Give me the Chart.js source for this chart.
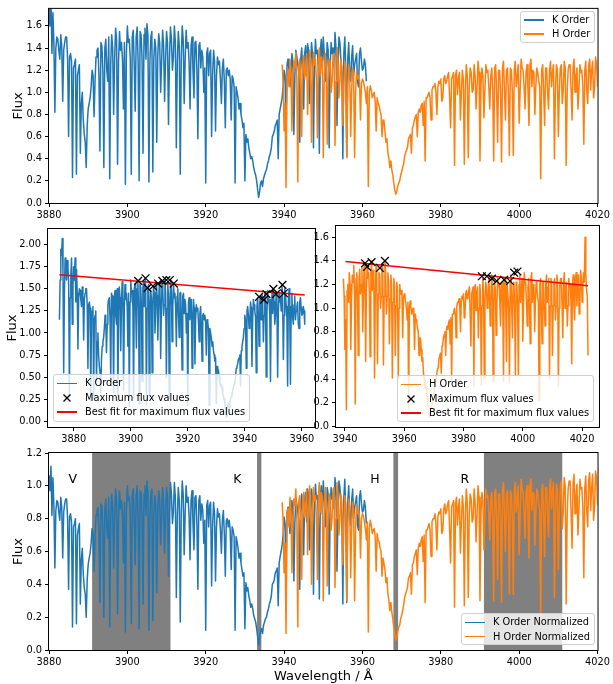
<!DOCTYPE html>
<html>
<head>
<meta charset="utf-8">
<script src="https://cdn.jsdelivr.net/npm/chart.js@4.4.0/dist/chart.umd.min.js"></script>
<style>
body { margin: 0; background: #fff; width: 613px; height: 684px; position: relative; overflow: hidden; font-family: 'DejaVu Sans', sans-serif; }
canvas { position: absolute; }
.lg { position: absolute; background: rgba(255,255,255,0.8); border: 1px solid #cfcfcf; border-radius: 3px; box-sizing: border-box; font-size: 9.8px; color: #000; }
.lg .row { position: absolute; left: 0; height: 14px; line-height: 14px; white-space: nowrap; }
.lg .hl { position: absolute; left: 3px; top: 6.25px; width: 20px; height: 1.5px; }
.lg .tx { position: absolute; left: 31px; top: 0; }
.lg svg { position: absolute; left: 9px; top: 3px; }
</style>
</head>
<body>
<canvas id="cTop"></canvas>
<canvas id="cK"></canvas>
<canvas id="cH"></canvas>
<canvas id="cNorm"></canvas>
<script>
// -------- DATA --------
const kWave = [
  3875,3875.25,3875.5,3875.75,3876,3876.25,3876.5,3876.75,3877,3877.25,3877.5,3877.75,3878,3878.25,3878.5,3878.75,3879,3879.25,3879.5,3879.75,
  3880,3880.25,3880.5,3880.75,3881,3881.25,3881.5,3881.75,3882,3882.25,3882.5,3882.75,3883,3883.25,3883.5,3883.75,3884,3884.25,3884.5,3884.75,
  3885,3885.25,3885.5,3885.75,3886,3886.25,3886.5,3886.75,3887,3887.25,3887.5,3887.75,3888,3888.25,3888.5,3888.75,3889,3889.25,3889.5,3889.75,
  3890,3890.25,3890.5,3890.75,3891,3891.25,3891.5,3891.75,3892,3892.25,3892.5,3892.75,3893,3893.25,3893.5,3893.75,3894,3894.25,3894.5,3894.75,
  3895,3895.25,3895.5,3895.75,3896,3896.25,3896.5,3896.75,3897,3897.25,3897.5,3897.75,3898,3898.25,3898.5,3898.75,3899,3899.25,3899.5,3899.75,
  3900,3900.25,3900.5,3900.75,3901,3901.25,3901.5,3901.75,3902,3902.25,3902.5,3902.75,3903,3903.25,3903.5,3903.75,3904,3904.25,3904.5,3904.75,
  3905,3905.25,3905.5,3905.75,3906,3906.25,3906.5,3906.75,3907,3907.25,3907.5,3907.75,3908,3908.25,3908.5,3908.75,3909,3909.25,3909.5,3909.75,
  3910,3910.25,3910.5,3910.75,3911,3911.25,3911.5,3911.75,3912,3912.25,3912.5,3912.75,3913,3913.25,3913.5,3913.75,3914,3914.25,3914.5,3914.75,
  3915,3915.25,3915.5,3915.75,3916,3916.25,3916.5,3916.75,3917,3917.25,3917.5,3917.75,3918,3918.25,3918.5,3918.75,3919,3919.25,3919.5,3919.75,
  3920,3920.25,3920.5,3920.75,3921,3921.25,3921.5,3921.75,3922,3922.25,3922.5,3922.75,3923,3923.25,3923.5,3923.75,3924,3924.25,3924.5,3924.75,
  3925,3925.25,3925.5,3925.75,3926,3926.25,3926.5,3926.75,3927,3927.25,3927.5,3927.75,3928,3928.25,3928.5,3928.75,3929,3929.25,3929.5,3929.75,
  3930,3930.25,3930.5,3930.75,3931,3931.25,3931.5,3931.75,3932,3932.25,3932.5,3932.75,3933,3933.25,3933.5,3933.75,3934,3934.25,3934.5,3934.75,
  3935,3935.25,3935.5,3935.75,3936,3936.25,3936.5,3936.75,3937,3937.25,3937.5,3937.75,3938,3938.25,3938.5,3938.75,3939,3939.25,3939.5,3939.75,
  3940,3940.25,3940.5,3940.75,3941,3941.25,3941.5,3941.75,3942,3942.25,3942.5,3942.75,3943,3943.25,3943.5,3943.75,3944,3944.25,3944.5,3944.75,
  3945,3945.25,3945.5,3945.75,3946,3946.25,3946.5,3946.75,3947,3947.25,3947.5,3947.75,3948,3948.25,3948.5,3948.75,3949,3949.25,3949.5,3949.75,
  3950,3950.25,3950.5,3950.75,3951,3951.25,3951.5,3951.75,3952,3952.25,3952.5,3952.75,3953,3953.25,3953.5,3953.75,3954,3954.25,3954.5,3954.75,
  3955,3955.25,3955.5,3955.75,3956,3956.25,3956.5,3956.75,3957,3957.25,3957.5,3957.75,3958,3958.25,3958.5,3958.75,3959,3959.25,3959.5,3959.75,
  3960,3960.25,3960.5,3960.75,3961
];
const kFlux = [
  1.15,1.6,1.95,1.88,2.07,1.7,0.55,1.45,1.85,1.72,1.6,1.82,1.75,1.55,0.3,1.4,1.65,1.85,1.1,1.55,
  1.75,1.6,1.85,1.35,1.72,1.45,0.82,1.4,1.5,1.48,1.38,1.3,1.52,1.42,0.92,1.38,1.45,1.5,1.5,1.3,
  0.6,1.32,1.35,1.28,0.23,1.22,1.25,1.3,0.26,1.15,1.2,1.25,0.45,0.9,1.0,0.75,0.62,0.55,0.32,0.7,
  0.85,0.9,0.95,1.05,1.2,1.15,0.78,1.1,1.32,1.38,1.4,1.15,0.47,1.45,1.42,1.2,0.32,1.4,1.48,1.2,
  1.1,1.5,0.22,1.25,1.52,1.4,0.8,1.3,1.58,1.48,0.35,1.28,1.55,1.38,1.45,1.3,0.85,1.45,0.17,1.35,
  1.6,1.45,1.48,1.3,0.26,1.5,1.56,1.25,0.83,1.5,1.59,1.28,0.2,1.55,1.52,1.3,0.45,1.52,1.58,1.3,
  1.62,1.52,0.19,1.28,1.5,1.55,0.28,1.3,1.48,1.4,0.55,1.32,1.53,1.45,1.0,1.28,1.56,1.42,0.92,1.3,
  1.55,1.45,0.71,1.3,1.59,1.48,1.2,1.32,1.6,1.45,0.5,1.28,1.55,1.42,0.26,1.3,1.6,1.48,0.9,1.3,
  1.56,1.4,1.45,1.28,0.85,1.42,1.5,1.2,0.95,1.45,1.46,1.2,0.58,1.42,1.45,1.22,1.38,1.32,1.0,1.22,
  0.18,1.35,1.4,1.15,1.35,1.38,0.6,1.15,1.38,1.28,0.65,1.15,1.32,1.25,1.28,1.12,0.9,1.22,1.3,1.1,
  0.68,1.2,1.22,1.15,1.2,1.12,0.75,1.15,1.12,1.05,0.18,1.05,1.0,0.95,0.85,0.9,0.8,0.75,0.68,0.72,
  0.2,0.62,0.55,0.58,0.5,0.45,0.4,0.42,0.38,0.32,0.28,0.25,0.2,0.12,0.05,0.1,0.18,0.2,0.15,0.22,
  0.25,0.28,0.3,0.35,0.38,0.42,0.45,0.5,0.6,0.62,0.65,0.7,0.72,0.75,0.4,0.8,0.85,0.9,0.95,1.05,
  1.2,1.15,0.6,1.25,1.3,1.2,1.05,1.12,1.35,1.28,0.62,1.15,1.38,1.32,1.25,1.18,0.55,1.3,1.4,1.2,
  0.85,1.35,1.42,1.15,1.44,1.38,0.9,1.2,1.45,1.35,0.5,1.22,1.48,1.35,1.38,1.2,0.45,1.38,1.48,1.22,
  1.5,1.35,1.1,1.2,1.45,1.38,0.5,1.22,1.45,1.35,1.4,1.25,1.54,1.4,0.7,1.2,1.5,1.45,1.3,1.18,
  0.4,1.35,1.5,1.2,0.42,1.3,1.45,1.18,1.1,1.32,1.42,1.15,1.25,1.3,1.35,1.1,1.05,1.35,1.4,1.28,
  1.2,1.22,1.3,1.25,1.1
];
const kNorm = [
  0.69,0.96,1.17,1.13,1.25,1.03,0.33,0.88,1.11,1.04,0.97,1.10,1.06,0.94,0.18,0.85,1.00,1.12,0.67,0.94,
  1.06,0.97,1.12,0.82,1.05,0.88,0.50,0.85,0.91,0.90,0.84,0.79,0.93,0.87,0.56,0.84,0.89,0.92,0.92,0.80,
  0.37,0.81,0.83,0.78,0.14,0.75,0.77,0.80,0.16,0.70,0.74,0.77,0.28,0.55,0.62,0.46,0.38,0.34,0.20,0.43,
  0.52,0.56,0.59,0.65,0.74,0.71,0.48,0.68,0.82,0.85,0.87,0.71,0.29,0.89,0.88,0.74,0.20,0.86,0.92,0.74,
  0.68,0.93,0.14,0.78,0.95,0.87,0.50,0.81,0.98,0.92,0.22,0.80,0.97,0.86,0.91,0.81,0.53,0.90,0.11,0.84,
  1.00,0.91,0.93,0.82,0.16,0.94,0.98,0.79,0.52,0.94,1.00,0.80,0.13,0.97,0.96,0.82,0.28,0.95,1.00,0.82,
  1.03,0.96,0.12,0.81,0.95,0.98,0.18,0.82,0.94,0.89,0.35,0.84,0.97,0.92,0.64,0.81,0.99,0.90,0.59,0.82,
  0.99,0.93,0.45,0.83,1.02,0.95,0.77,0.84,1.02,0.93,0.32,0.82,0.99,0.91,0.17,0.83,1.03,0.95,0.58,0.83,
  1.00,0.90,0.93,0.82,0.55,0.91,0.97,0.77,0.61,0.93,0.94,0.77,0.37,0.91,0.94,0.79,0.89,0.85,0.65,0.79,
  0.12,0.88,0.91,0.75,0.88,0.90,0.39,0.75,0.90,0.83,0.42,0.75,0.86,0.81,0.83,0.73,0.59,0.79,0.85,0.71,
  0.45,0.79,0.80,0.75,0.79,0.73,0.49,0.75,0.73,0.69,0.12,0.69,0.66,0.62,0.56,0.59,0.53,0.49,0.45,0.47,
  0.13,0.41,0.36,0.38,0.33,0.30,0.26,0.28,0.25,0.21,0.19,0.17,0.13,0.08,0.03,0.07,0.12,0.13,0.10,0.15,
  0.17,0.19,0.20,0.23,0.25,0.28,0.30,0.33,0.40,0.41,0.43,0.47,0.48,0.50,0.27,0.53,0.57,0.60,0.64,0.70,
  0.81,0.77,0.40,0.84,0.87,0.81,0.71,0.75,0.91,0.86,0.42,0.77,0.93,0.89,0.84,0.79,0.37,0.87,0.95,0.81,
  0.58,0.92,0.96,0.78,0.98,0.94,0.61,0.81,0.98,0.92,0.34,0.83,1.01,0.92,0.94,0.81,0.31,0.94,1.00,0.83,
  1.03,0.92,0.75,0.82,0.99,0.95,0.34,0.84,0.99,0.92,0.96,0.86,1.05,0.96,0.48,0.82,1.03,0.99,0.89,0.81,
  0.28,0.93,1.04,0.83,0.29,0.90,1.00,0.82,0.76,0.91,0.98,0.80,0.87,0.90,0.94,0.76,0.73,0.93,0.97,0.89,
  0.84,0.85,0.91,0.87,0.77
];
const hWave = [
  3939.5,3939.75,3940,3940.25,3940.5,3940.75,3941,3941.25,3941.5,3941.75,3942,3942.25,3942.5,3942.75,3943,3943.25,3943.5,3943.75,3944,3944.25,
  3944.5,3944.75,3945,3945.25,3945.5,3945.75,3946,3946.25,3946.5,3946.75,3947,3947.25,3947.5,3947.75,3948,3948.25,3948.5,3948.75,3949,3949.25,
  3949.5,3949.75,3950,3950.25,3950.5,3950.75,3951,3951.25,3951.5,3951.75,3952,3952.25,3952.5,3952.75,3953,3953.25,3953.5,3953.75,3954,3954.25,
  3954.5,3954.75,3955,3955.25,3955.5,3955.75,3956,3956.25,3956.5,3956.75,3957,3957.25,3957.5,3957.75,3958,3958.25,3958.5,3958.75,3959,3959.25,
  3959.5,3959.75,3960,3960.25,3960.5,3960.75,3961,3961.25,3961.5,3961.75,3962,3962.25,3962.5,3962.75,3963,3963.25,3963.5,3963.75,3964,3964.25,
  3964.5,3964.75,3965,3965.25,3965.5,3965.75,3966,3966.25,3966.5,3966.75,3967,3967.25,3967.5,3967.75,3968,3968.25,3968.5,3968.75,3969,3969.25,
  3969.5,3969.75,3970,3970.25,3970.5,3970.75,3971,3971.25,3971.5,3971.75,3972,3972.25,3972.5,3972.75,3973,3973.25,3973.5,3973.75,3974,3974.25,
  3974.5,3974.75,3975,3975.25,3975.5,3975.75,3976,3976.25,3976.5,3976.75,3977,3977.25,3977.5,3977.75,3978,3978.25,3978.5,3978.75,3979,3979.25,
  3979.5,3979.75,3980,3980.25,3980.5,3980.75,3981,3981.25,3981.5,3981.75,3982,3982.25,3982.5,3982.75,3983,3983.25,3983.5,3983.75,3984,3984.25,
  3984.5,3984.75,3985,3985.25,3985.5,3985.75,3986,3986.25,3986.5,3986.75,3987,3987.25,3987.5,3987.75,3988,3988.25,3988.5,3988.75,3989,3989.25,
  3989.5,3989.75,3990,3990.25,3990.5,3990.75,3991,3991.25,3991.5,3991.75,3992,3992.25,3992.5,3992.75,3993,3993.25,3993.5,3993.75,3994,3994.25,
  3994.5,3994.75,3995,3995.25,3995.5,3995.75,3996,3996.25,3996.5,3996.75,3997,3997.25,3997.5,3997.75,3998,3998.25,3998.5,3998.75,3999,3999.25,
  3999.5,3999.75,4000,4000.25,4000.5,4000.75,4001,4001.25,4001.5,4001.75,4002,4002.25,4002.5,4002.75,4003,4003.25,4003.5,4003.75,4004,4004.25,
  4004.5,4004.75,4005,4005.25,4005.5,4005.75,4006,4006.25,4006.5,4006.75,4007,4007.25,4007.5,4007.75,4008,4008.25,4008.5,4008.75,4009,4009.25,
  4009.5,4009.75,4010,4010.25,4010.5,4010.75,4011,4011.25,4011.5,4011.75,4012,4012.25,4012.5,4012.75,4013,4013.25,4013.5,4013.75,4014,4014.25,
  4014.5,4014.75,4015,4015.25,4015.5,4015.75,4016,4016.25,4016.5,4016.75,4017,4017.25,4017.5,4017.75,4018,4018.25,4018.5,4018.75,4019,4019.25,
  4019.5,4019.75,4020,4020.25,4020.5,4020.75,4021,4021.25,4021.5,4021.75,4022
];
const hFlux = [
  1.25,1.1,0.65,0.9,0.14,1.15,1.2,1.05,1.3,1.2,0.65,1.1,1.28,1.22,1.36,1.12,0.19,1.25,1.3,1.1,
  0.6,1.25,1.33,1.12,1.2,1.35,0.8,1.1,1.38,1.3,0.55,1.15,1.36,1.25,1.3,1.12,0.59,1.3,1.4,1.15,
  1.32,1.28,0.41,1.12,1.35,1.25,0.53,1.12,1.3,1.28,1.0,1.1,1.34,1.35,0.52,1.1,1.4,1.3,0.95,1.1,
  1.3,1.22,0.7,1.08,1.28,1.2,0.41,1.05,1.25,1.18,0.6,1.02,1.22,1.15,0.41,1.0,1.2,1.12,1.15,1.1,
  0.75,1.08,1.12,1.1,1.05,1.0,0.9,1.05,0.15,1.0,1.06,1.02,0.95,0.98,1.0,0.92,0.65,0.95,0.9,0.88,
  0.83,0.8,0.6,0.75,0.74,0.65,0.55,0.58,0.45,0.4,0.32,0.38,0.3,0.25,0.18,0.12,0.08,0.1,0.15,0.18,
  0.2,0.25,0.28,0.32,0.35,0.42,0.45,0.48,0.5,0.58,0.6,0.62,0.45,0.68,0.7,0.75,0.78,0.8,0.6,0.82,
  0.85,0.82,0.88,0.9,0.7,0.92,0.38,0.95,0.95,0.98,1.0,0.95,0.75,1.02,1.05,1.05,1.08,1.0,0.8,1.05,
  1.1,1.08,1.12,0.92,0.95,1.12,1.15,1.08,1.1,1.15,1.18,0.95,0.68,1.12,1.15,1.18,0.34,1.15,1.2,0.98,
  1.12,1.18,0.75,1.0,1.2,1.12,0.35,1.02,1.25,1.15,0.41,1.05,1.22,1.18,1.0,1.02,1.25,1.15,0.85,1.05,
  1.28,1.18,0.38,1.05,1.22,1.15,0.77,1.02,1.25,1.18,1.2,1.05,0.85,1.15,1.22,1.02,0.38,1.22,1.25,1.0,
  0.55,1.2,1.2,1.0,0.37,1.22,1.28,1.02,0.75,1.2,1.22,1.0,0.43,1.22,1.2,1.02,0.43,1.2,1.28,1.05,
  1.15,1.25,0.72,1.02,1.3,1.22,1.2,1.05,0.85,1.18,1.25,1.02,0.7,1.25,1.3,1.05,1.2,1.18,0.8,1.05,
  1.22,1.18,1.1,1.05,0.22,1.2,1.25,1.0,0.7,1.22,1.22,1.0,0.85,1.2,1.28,1.05,1.18,1.25,0.4,1.02,
  1.25,1.2,0.6,1.02,1.22,1.25,0.9,1.02,1.28,1.22,0.34,1.0,1.2,1.25,1.25,1.02,0.75,1.22,1.3,1.0,
  1.15,1.22,0.85,1.02,1.25,1.18,1.2,1.05,0.53,1.2,1.28,1.02,0.9,1.25,1.3,1.02,1.2,1.28,0.95,1.05,
  1.32,1.25,1.05,1.2,1.3,1.22,1.6,1.3,1.15,1.1,0.6
];
const hNorm = [
  0.90,0.79,0.47,0.65,0.10,0.83,0.86,0.75,0.93,0.86,0.47,0.79,0.92,0.88,0.98,0.80,0.14,0.90,0.94,0.79,
  0.43,0.90,0.96,0.81,0.87,0.98,0.58,0.80,1.00,0.94,0.40,0.83,0.99,0.91,0.94,0.81,0.43,0.95,1.02,0.84,
  0.96,0.93,0.30,0.82,0.99,0.91,0.39,0.82,0.95,0.93,0.73,0.80,0.98,0.99,0.38,0.80,1.02,0.95,0.70,0.80,
  0.95,0.90,0.52,0.79,0.94,0.88,0.30,0.77,0.92,0.87,0.44,0.75,0.90,0.85,0.30,0.74,0.89,0.83,0.85,0.81,
  0.56,0.80,0.83,0.82,0.78,0.74,0.67,0.78,0.11,0.74,0.79,0.76,0.71,0.73,0.74,0.69,0.48,0.71,0.67,0.66,
  0.62,0.60,0.45,0.56,0.56,0.49,0.41,0.44,0.34,0.30,0.24,0.29,0.23,0.19,0.14,0.09,0.06,0.08,0.11,0.14,
  0.15,0.19,0.21,0.24,0.27,0.32,0.34,0.36,0.38,0.44,0.45,0.47,0.34,0.52,0.53,0.57,0.59,0.61,0.46,0.62,
  0.65,0.63,0.67,0.69,0.54,0.70,0.29,0.73,0.73,0.75,0.77,0.73,0.57,0.78,0.80,0.80,0.83,0.77,0.61,0.81,
  0.84,0.83,0.86,0.71,0.73,0.86,0.89,0.83,0.85,0.89,0.91,0.73,0.53,0.87,0.89,0.91,0.26,0.89,0.93,0.76,
  0.87,0.92,0.59,0.78,0.94,0.87,0.27,0.80,0.98,0.90,0.32,0.82,0.95,0.92,0.78,0.80,0.98,0.90,0.66,0.83,
  1.00,0.93,0.30,0.83,0.96,0.91,0.61,0.80,0.98,0.93,0.94,0.83,0.67,0.91,0.96,0.80,0.30,0.96,0.98,0.79,
  0.43,0.95,0.95,0.80,0.29,0.97,1.02,0.81,0.60,0.95,0.97,0.80,0.34,0.97,0.95,0.81,0.34,0.96,1.02,0.84,
  0.91,1.00,0.58,0.82,1.04,0.98,0.96,0.84,0.68,0.95,1.00,0.82,0.56,1.00,1.04,0.85,0.96,0.95,0.64,0.85,
  0.98,0.96,0.89,0.85,0.18,0.97,1.01,0.81,0.57,0.99,0.99,0.82,0.69,0.98,1.04,0.86,0.96,1.02,0.32,0.83,
  1.01,0.98,0.49,0.84,1.00,1.03,0.74,0.84,1.05,1.00,0.28,0.82,0.98,1.03,1.03,0.84,0.62,1.01,1.07,0.83,
  0.94,1.01,0.70,0.85,1.04,0.98,0.99,0.87,0.44,0.99,1.06,0.85,0.75,1.04,1.08,0.85,0.99,1.07,0.79,0.88,
  1.09,1.05,0.88,1.00,1.09,1.02,1.34,1.09,0.96,0.92,0.50
];

const kMaxWave = [3902.6,3905.2,3905.9,3907.8,3909.6,3911.1,3912.5,3913.7,3915.1,3945.0,3946.7,3947.6,3950.0,3950.9,3953.2,3953.7];
const kMaxFlux = [1.59,1.62,1.51,1.53,1.56,1.59,1.60,1.60,1.56,1.41,1.375,1.44,1.50,1.44,1.545,1.45];
const hMaxWave = [3946.8,3947.5,3949.0,3951.8,3953.5,3986.2,3987.9,3989.6,3991.2,3993.7,3995.7,3997.1,3998.2];
const hMaxFlux = [1.38,1.35,1.39,1.34,1.40,1.27,1.27,1.25,1.23,1.24,1.23,1.30,1.31];

const kFitWave = [3875.0, 3961.0];
const kFitFlux = [1.66, 1.43];
const hFitWave = [3940.2, 4022.0];
const hFitFlux = [1.395, 1.19];

// shaded bands in the normalized panel
const bandStart = [3891, 3933.1, 3967.9, 3991];
const bandEnd = [3911, 3934.2, 3969.1, 4011];
const bandNames = ['V', 'K', 'H', 'R'];
const bandNameWave = [3885, 3927, 3962, 3985];
const bandNameFlux = 1.0;

const waveTicksWide = [3880, 3900, 3920, 3940, 3960, 3980, 4000, 4020];
const waveTicksK = [3880, 3900, 3920, 3940, 3960];
const waveTicksH = [3940, 3960, 3980, 4000, 4020];
const fluxTicksTop = [0, 0.2, 0.4, 0.6, 0.8, 1.0, 1.2, 1.4, 1.6];
const fluxTicksK = [0, 0.25, 0.5, 0.75, 1.0, 1.25, 1.5, 1.75, 2.0];
const fluxTicksH = [0, 0.2, 0.4, 0.6, 0.8, 1.0, 1.2, 1.4, 1.6];
const fluxTicksNorm = [0, 0.2, 0.4, 0.6, 0.8, 1.0, 1.2];

// -------- HELPERS --------
const BLUE = '#1f77b4', ORANGE = '#ff7f0e';
Chart.defaults.font.family = "'DejaVu Sans', sans-serif";
Chart.defaults.font.size = 9.8;
Chart.defaults.color = '#000';

function pts(xs, ys) {
    return xs.map((x, i) => ({ x: x, y: ys[i] }));
}

function spectrum(xs, ys, color, order) {
    return {
        data: pts(xs, ys), borderColor: color, borderWidth: 1.5,
        pointRadius: 0, borderJoinStyle: 'round', tension: 0, order: order
    };
}

function fitLine(xs, ys, order) {
    return { data: pts(xs, ys), borderColor: '#ff0000', borderWidth: 1.5, pointRadius: 0, order: order };
}

function markers(xs, ys, order) {
    return {
        data: pts(xs, ys), showLine: false, pointStyle: 'crossRot', pointRadius: 5.5,
        pointBorderColor: '#000', pointBorderWidth: 1.3, borderColor: '#000', order: order
    };
}

function axis(dir, min, max, ticks, fmt, size, title) {
    return {
        type: 'linear', position: dir === 'x' ? 'bottom' : 'left', min: min, max: max,
        afterBuildTicks: s => { s.ticks = ticks.map(v => ({ value: v })); },
        afterFit: s => { if (dir === 'x') s.height = size; else s.width = size; },
        ticks: { callback: fmt, autoSkip: false, maxRotation: 0, padding: 3, color: '#000' },
        grid: { drawOnChartArea: false, drawTicks: true, tickLength: 4, color: '#000', lineWidth: 1 },
        border: { display: false },
        title: title ? { display: true, text: title.text, color: '#000', font: { size: 13 }, padding: title.pad } : { display: false }
    };
}

const frame = {
    id: 'frame',
    afterDatasetsDraw(chart) {
        const { ctx, chartArea: a } = chart;
        ctx.save();
        ctx.strokeStyle = '#000';
        ctx.lineWidth = 1;
        ctx.strokeRect(a.left - 0.5, a.top - 0.5, a.right - a.left + 1, a.bottom - a.top + 1);
        ctx.restore();
    }
};

const bands = {
    id: 'bands',
    beforeDatasetsDraw(chart) {
        const { ctx, chartArea: a, scales } = chart;
        ctx.save();
        ctx.fillStyle = '#808080';
        bandStart.forEach((s, i) => {
            const x0 = scales.x.getPixelForValue(s), x1 = scales.x.getPixelForValue(bandEnd[i]);
            ctx.fillRect(x0, a.top, x1 - x0, a.bottom - a.top);
        });
        ctx.restore();
    },
    afterDatasetsDraw(chart) {
        const { ctx, scales } = chart;
        ctx.save();
        ctx.fillStyle = '#000';
        ctx.font = "12.5px 'DejaVu Sans'";
        ctx.textAlign = 'left';
        ctx.textBaseline = 'bottom';
        bandNames.forEach((n, i) => {
            ctx.fillText(n, scales.x.getPixelForValue(bandNameWave[i]), scales.y.getPixelForValue(bandNameFlux));
        });
        ctx.restore();
    }
};

function makePanel(id, box, area, cfg) {
    const cv = document.getElementById(id);
    cv.width = box.w; cv.height = box.h;
    cv.style.left = box.x + 'px'; cv.style.top = box.y + 'px';
    const yW = area.l - box.x, xH = box.y + box.h - area.b;
    return new Chart(cv, {
        type: 'line',
        data: { datasets: cfg.datasets },
        options: {
            responsive: false, animation: false, devicePixelRatio: 1,
            parsing: false, normalized: true,
            layout: { padding: { left: 0, top: area.t - box.y, right: box.x + box.w - area.r, bottom: 0 } },
            plugins: { legend: { display: false }, tooltip: { enabled: false } },
            scales: {
                x: axis('x', cfg.xMin, cfg.xMax, cfg.xTicks, v => String(v), xH, cfg.xTitle),
                y: axis('y', cfg.yMin, cfg.yMax, cfg.yTicks, v => v.toFixed(cfg.yDec), yW, cfg.yTitle)
            }
        },
        plugins: (cfg.extra || []).concat([frame])
    });
}

function addLegend(box, items) {
    const d = document.createElement('div');
    d.className = 'lg';
    d.style.left = box[0] + 'px'; d.style.top = box[1] + 'px';
    d.style.width = box[2] + 'px'; d.style.height = box[3] + 'px';
    items.forEach((it, i) => {
        const r = document.createElement('div');
        r.className = 'row';
        r.style.top = (1.3 + i * 14.4) + 'px';
        if (it.cross) {
            r.innerHTML = '<svg width="8" height="8"><path d="M0.5 0.5 L7.5 7.5 M7.5 0.5 L0.5 7.5" stroke="#000" stroke-width="1.3"/></svg>';
        } else {
            const h = document.createElement('div');
            h.className = 'hl';
            h.style.background = it.color;
            r.appendChild(h);
        }
        const t = document.createElement('span');
        t.className = 'tx';
        t.textContent = it.text;
        r.appendChild(t);
        d.appendChild(r);
    });
    document.body.appendChild(d);
}

// -------- PANELS --------
makePanel('cTop', { x: 0, y: 0, w: 613, h: 225 }, { l: 49, t: 5, r: 599, b: 203 }, {
    datasets: [spectrum(hWave, hFlux, ORANGE, 0), spectrum(kWave, kFlux, BLUE, 1)],
    xMin: 3880, xMax: 4020, xTicks: waveTicksWide,
    yMin: 0, yMax: 1.754, yTicks: fluxTicksTop, yDec: 1,
    yTitle: { text: 'Flux', pad: { top: 10.5 } }
});

makePanel('cK', { x: 0, y: 215, w: 325, h: 235 }, { l: 48, t: 229, r: 315, b: 427 }, {
    datasets: [markers(kMaxWave, kMaxFlux, 0), fitLine(kFitWave, kFitFlux, 1), spectrum(kWave, kFlux, BLUE, 2)],
    xMin: 3871.0, xMax: 3964.6, xTicks: waveTicksK,
    yMin: -0.065, yMax: 2.178, yTicks: fluxTicksK, yDec: 2,
    yTitle: { text: 'Flux', pad: { top: 4.7 } }
});

makePanel('cH', { x: 308, y: 215, w: 305, h: 235 }, { l: 336, t: 226, r: 599, b: 427 }, {
    datasets: [markers(hMaxWave, hMaxFlux, 0), fitLine(hFitWave, hFitFlux, 1), spectrum(hWave, hFlux, ORANGE, 2)],
    xMin: 3937.0, xMax: 4025.7, xTicks: waveTicksH,
    yMin: -0.005, yMax: 1.695, yTicks: fluxTicksH, yDec: 1
});

makePanel('cNorm', { x: 0, y: 440, w: 613, h: 244 }, { l: 49, t: 453, r: 599, b: 650 }, {
    datasets: [spectrum(hWave, hNorm, ORANGE, 0), spectrum(kWave, kNorm, BLUE, 1)],
    xMin: 3880, xMax: 4020, xTicks: waveTicksWide,
    yMin: 0, yMax: 1.2, yTicks: fluxTicksNorm, yDec: 1,
    yTitle: { text: 'Flux', pad: { top: 10.5 } },
    xTitle: { text: 'Wavelength / Å', pad: { top: 0, bottom: 0 } },
    extra: [bands]
});

// -------- LEGENDS --------
addLegend([520, 10.5, 75, 32], [
    { color: BLUE, text: 'K Order' },
    { color: ORANGE, text: 'H Order' }
]);
addLegend([53, 374, 196.5, 48], [
    { color: BLUE, text: 'K Order' },
    { cross: true, text: 'Maximum flux values' },
    { color: '#ff0000', text: 'Best fit for maximum flux values' }
]);
addLegend([397, 375, 197, 47], [
    { color: ORANGE, text: 'H Order' },
    { cross: true, text: 'Maximum flux values' },
    { color: '#ff0000', text: 'Best fit for maximum flux values' }
]);
addLegend([461, 613, 134, 32], [
    { color: BLUE, text: 'K Order Normalized' },
    { color: ORANGE, text: 'H Order Normalized' }
]);
</script>
</body>
</html>
